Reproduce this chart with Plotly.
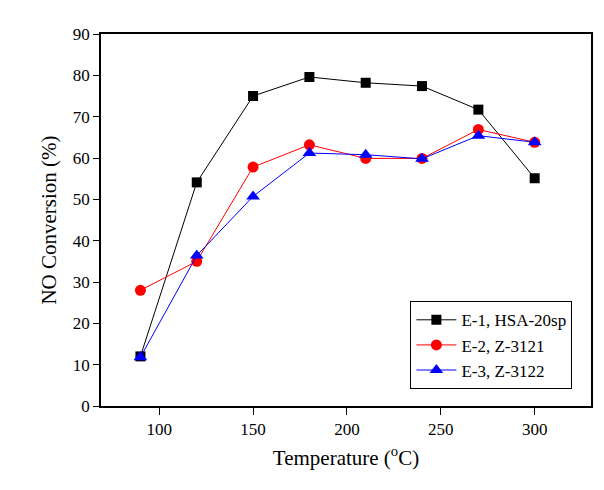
import plotly.graph_objects as go

temps = [90, 120, 150, 180, 210, 240, 270, 300]
e1_hsa = [12.0, 54.1, 75.0, 79.6, 78.2, 77.4, 71.7, 55.1]
e2_z3121 = [28.0, 35.0, 57.8, 63.2, 59.9, 59.9, 66.9, 63.8]
e3_z3122 = [11.8, 36.4, 50.7, 61.2, 60.8, 59.8, 65.4, 63.8]
names = ["E-1, HSA-20sp", "E-2, Z-3121", "E-3, Z-3122"]

font_family = "Times New Roman, Liberation Serif, serif"

fig = go.Figure()
fig.add_trace(go.Scatter(x=temps, y=e1_hsa, name=names[0], mode="lines+markers",
                         line=dict(color="black", width=1),
                         marker=dict(symbol="square", size=10, color="black")))
fig.add_trace(go.Scatter(x=temps, y=e2_z3121, name=names[1], mode="lines+markers",
                         line=dict(color="red", width=1),
                         marker=dict(symbol="circle", size=11, color="red")))
fig.add_trace(go.Scatter(x=temps, y=e3_z3122, name=names[2], mode="lines+markers",
                         line=dict(color="blue", width=1),
                         marker=dict(symbol="triangle-up", size=12, color="blue")))

fig.update_layout(
    width=596, height=482,
    margin=dict(l=93, r=11, t=26, b=84),
    paper_bgcolor="white", plot_bgcolor="white",
    font=dict(family=font_family, size=17, color="black"),
    showlegend=True,
    legend=dict(x=0.962, y=0.045, xanchor="right", yanchor="bottom",
                bordercolor="black", borderwidth=1, bgcolor="white",
                font=dict(size=17, family=font_family, color="black"),
                tracegroupgap=0, itemwidth=40),
)
fig.update_xaxes(range=[69, 330], tickvals=[100, 150, 200, 250, 300],
                 tickfont=dict(family=font_family, size=17, color="black"),
                 showline=True, linecolor="black", linewidth=1.5, mirror=True,
                 ticks="outside", ticklen=7, tickcolor="black", tickwidth=1,
                 showgrid=False, zeroline=False,
                 title=dict(text="Temperature (<sup>o</sup>C)",
                            font=dict(size=21, family=font_family, color="black"), standoff=12))
fig.update_yaxes(range=[0, 90], dtick=10,
                 tickfont=dict(family=font_family, size=17, color="black"),
                 showline=True, linecolor="black", linewidth=1.5, mirror=True,
                 ticks="outside", ticklen=6, tickcolor="black", tickwidth=1,
                 showgrid=False, zeroline=False,
                 title=dict(text="NO Conversion (%)",
                            font=dict(size=21, family=font_family, color="black"), standoff=10))

fig.write_html("out.html")
